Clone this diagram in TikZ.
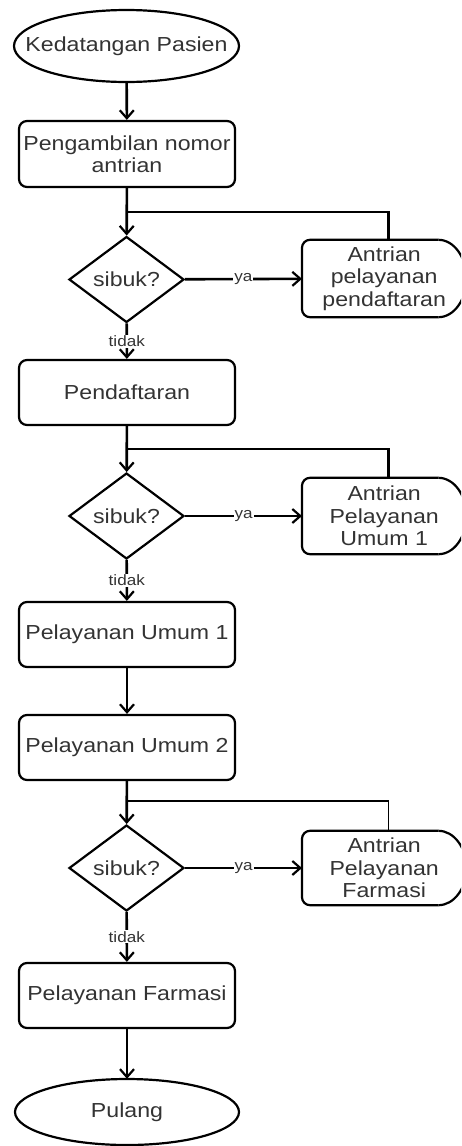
\documentclass[tikz,border=0pt]{standalone}
\usepackage{fontspec}
\setmainfont[FakeStretch=1.14]{Liberation Sans}
\usetikzlibrary{shapes.geometric,arrows.meta,calc}
\definecolor{txtgray}{HTML}{333333}
\begin{document}
\begin{tikzpicture}[x=1pt,y=1pt,
  every node/.style={font=\fontsize{20.3}{22.5}\selectfont,text=txtgray,align=center,inner sep=0pt},
  terminal/.style={minimum width=224pt},
  process/.style={draw=black,line width=2.2pt,rounded corners=8pt,minimum width=216pt},
  decision/.style={draw=black,line width=2.2pt,diamond,minimum width=115pt,minimum height=86pt,aspect=1.34},
  queuebox/.style={minimum width=164pt,anchor=west},
  outline/.style={line width=2.2pt,black},
  flow/.style={line width=2.6pt,-{Straight Barb[length=8pt,width=14pt,line width=2.2pt]}},
  plain/.style={line width=2.6pt},
  thin/.style={line width=1.3pt},
  lbl/.style={font=\fontsize{15}{16}\selectfont,fill=white,inner sep=1pt}]
\useasboundingbox (0,0) rectangle (461,-1146);
\clip (0,0) rectangle (461,-1146);

% main column
\node[terminal,minimum height=72pt] (start) at (126.5,-46) {Kedatangan Pasien};
\node[process,minimum height=66pt] (ambil) at (127,-154) {Pengambilan nomor\\antrian};
\node[decision] (d1) at (126.5,-279.5) {sibuk?};
\node[process,minimum height=65pt] (daftar) at (127,-392.5) {Pendaftaran};
\node[decision] (d2) at (126.5,-516) {sibuk?};
\node[process,minimum height=65pt] (umum1) at (127,-634.5) {Pelayanan Umum 1};
\node[process,minimum height=65pt] (umum2) at (127,-747.5) {Pelayanan Umum 2};
\node[decision] (d3) at (126.5,-868) {sibuk?};
\node[process,minimum height=65pt] (farmasi) at (127,-995.5) {Pelayanan Farmasi};
\node[terminal,minimum height=66pt] (pulang) at (127,-1112) {Pulang};

% terminal outlines
\draw[outline] (start.center) ellipse[x radius=112.5pt,y radius=36pt];
\draw[outline] (pulang.center) ellipse[x radius=112pt,y radius=33pt];

% queue boxes
\node[queuebox,minimum height=77pt] (q1) at (302,-278.5) {Antrian\\pelayanan\\pendaftaran};
\node[queuebox,minimum height=76pt] (q2) at (302,-516) {Antrian\\Pelayanan\\Umum 1};
\node[queuebox,minimum height=74pt] (q3) at (302,-868) {Antrian\\Pelayanan\\Farmasi};

% queue box outlines: rounded left side, half-round right end
\foreach \q in {q1,q2,q3}{
  \draw[outline,rounded corners=8pt] ($(\q.north east)+(-28,0)$) -- (\q.north west)
     -- (\q.south west) -- ($(\q.south east)+(-28,0)$);
  \path let \p1=(\q.north), \p2=(\q.south), \n1={(\y1-\y2)/2} in
     \pgfextra{\xdef\qhalf{\n1}};
  \draw[outline] ($(\q.north east)+(-28,0)$) arc[start angle=90,end angle=-90,x radius=28pt,y radius=\qhalf];
}

% loop junctions
\coordinate (j1) at (126.5,-212);
\coordinate (j2) at (126.5,-449);
\coordinate (j3) at (126.5,-801);

% connectors
\draw[flow] (start) -- (ambil);
\draw[flow] (ambil) -- (d1);
\draw[flow] (d1) -- node[lbl]{ya} (q1);
\draw[flow] (d1) -- node[lbl]{tidak} (daftar);
\draw[plain] ([xshift=4pt]q1.north) |- (j1);

\draw[flow] (daftar) -- (d2);
\draw[flow] (d2) -- node[lbl]{ya} (q2);
\draw[flow] (d2) -- node[lbl]{tidak} (umum1);
\draw[plain] ([xshift=4pt]q2.north) |- (j2);

\draw[flow] (umum1) -- (umum2);
\draw[flow] (umum2) -- (d3);
\draw[flow] (d3) -- node[lbl]{ya} (q3);
\draw[flow] (d3) -- node[lbl]{tidak} (farmasi);
\draw[thin] ([xshift=4pt]q3.north) |- (j3);

\draw[flow] (farmasi) -- (pulang);
\end{tikzpicture}
\end{document}
